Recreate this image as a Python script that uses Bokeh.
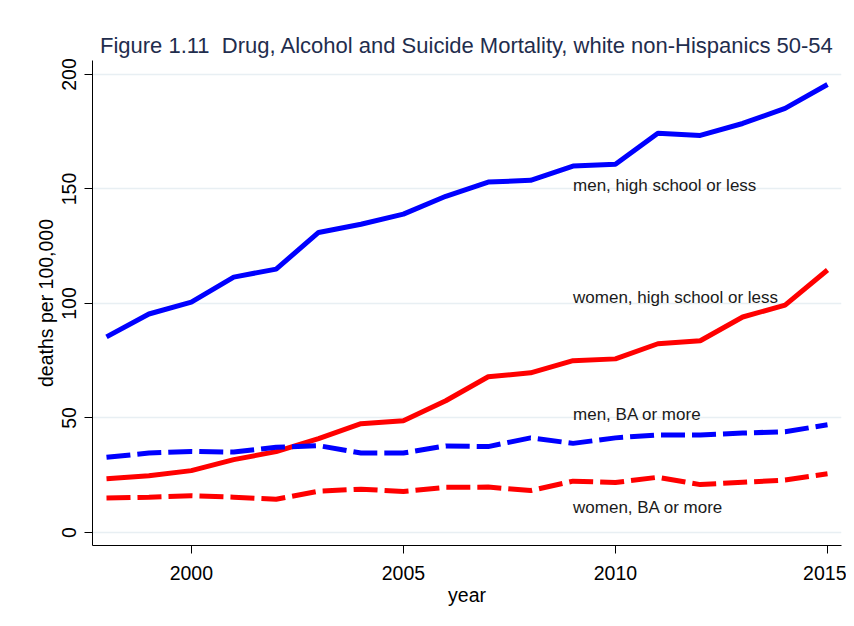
from bokeh.plotting import figure
from bokeh.models import Range1d, FixedTicker
from bokeh.embed import file_html
from bokeh.resources import INLINE
from bokeh.core.properties import value

years = list(range(1998, 2016))
men_hs = [85.4, 95.4, 100.6, 111.5, 115.0, 131.0, 134.6, 139.0, 146.8, 153.0,
          153.8, 160.0, 160.8, 174.3, 173.4, 178.6, 185.2, 195.6]
women_hs = [23.5, 24.8, 27.0, 31.8, 35.3, 41.0, 47.5, 48.8, 57.5, 68.0,
            69.7, 75.0, 75.8, 82.4, 83.7, 94.1, 99.3, 114.6]
men_ba = [32.8, 34.7, 35.4, 35.1, 37.2, 37.9, 34.7, 34.7, 37.8, 37.5,
          41.3, 38.9, 41.3, 42.6, 42.6, 43.4, 44.0, 47.0]
women_ba = [15.0, 15.4, 16.0, 15.4, 14.5, 18.0, 18.9, 17.9, 19.7, 19.8,
            18.3, 22.4, 21.8, 24.1, 20.9, 21.9, 22.9, 25.6]

label_texts = ["men, high school or less", "women, high school or less",
               "men, BA or more", "women, BA or more"]
label_x = [2009, 2009, 2009, 2009]
label_y = [151.6, 102.8, 51.4, 10.9]

x_ticks = [2000, 2005, 2010, 2015]
y_ticks = [0, 50, 100, 150, 200]

FONT = "Liberation Sans"

p = figure(width=846, height=618, output_backend="svg", toolbar_location=None,
           x_range=Range1d(1997.67, 2015.33), y_range=Range1d(-5.7, 206.1),
           min_border_left=92, min_border_right=5, min_border_top=60,
           min_border_bottom=73)

p.title.text = "Figure 1.11\u00a0\u00a0Drug, Alcohol and Suicide Mortality, white non-Hispanics 50-54"
p.title.align = "center"
p.title.text_font = FONT
p.title.text_font_size = "22px"
p.title.text_font_style = "normal"
p.title.text_color = "#1f2d4d"
p.title.offset = 0
p.title.standoff = 5

p.outline_line_color = None
p.background_fill_color = "white"
p.border_fill_color = "white"

p.xgrid.grid_line_color = None
p.ygrid.grid_line_color = "#e8eff3"
p.ygrid.grid_line_width = 1.5

p.xaxis.ticker = FixedTicker(ticks=x_ticks)
p.yaxis.ticker = FixedTicker(ticks=y_ticks)
for ax in (p.xaxis[0], p.yaxis[0]):
    ax.axis_line_color = "black"
    ax.major_tick_line_color = "black"
    ax.major_tick_out = 8
    ax.major_tick_in = 0
    ax.minor_tick_line_color = None
    ax.major_label_text_font = FONT
    ax.major_label_text_font_size = "19.5px"
    ax.major_label_text_color = "black"
    ax.axis_label_text_font = FONT
    ax.axis_label_text_font_size = "19.5px"
    ax.axis_label_text_font_style = "normal"
    ax.axis_label_text_color = "black"

p.xaxis.axis_label = "year"
p.yaxis.axis_label = "deaths per 100,000"
p.yaxis.major_label_orientation = "vertical"
p.xaxis.major_label_standoff = 12
p.xaxis.axis_label_standoff = 1
p.yaxis.major_label_standoff = 8
p.yaxis.axis_label_standoff = 3

p.line(years, men_hs, line_color="#0000ff", line_width=5)
p.line(years, women_hs, line_color="#ff0000", line_width=5)
p.line(years, men_ba, line_color="#0000ff", line_width=5, line_dash="24 7")
p.line(years, women_ba, line_color="#ff0000", line_width=5, line_dash="24 7")

p.text(x=label_x, y=label_y, text=label_texts, text_font=value(FONT),
       text_font_size="17px", text_color="#1a1a1a", text_align="left",
       text_baseline="middle")

open("out.html", "w").write(file_html(p, INLINE))
